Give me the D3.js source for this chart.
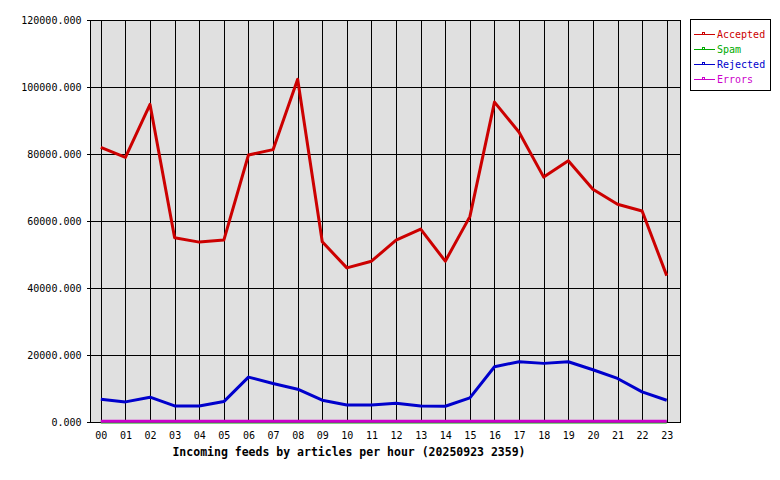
<!DOCTYPE html>
<html>
<head>
<meta charset="utf-8">
<script src="https://cdn.jsdelivr.net/npm/d3@7"></script>
<style>
    body { margin: 0; background: #fff; }
    svg text { font-family: "DejaVu Sans Mono", monospace; }
</style>
</head>
<body>
<div id="chart"></div>
<script>
const hours = ["00","01","02","03","04","05","06","07","08","09","10","11",
               "12","13","14","15","16","17","18","19","20","21","22","23"];
const accepted = [82000, 79000, 94800, 55000, 53700, 54300, 79700, 81300, 102300, 53800, 46000, 48000,
                  54300, 57600, 48000, 61300, 95500, 86500, 73100, 78000, 69500, 65000, 63000, 43700];
const spam = [0,0,0,0,0,0,0,0,0,0,0,0,0,0,0,0,0,0,0,0,0,0,0,0];
const rejected = [6800, 6000, 7400, 4800, 4800, 6100, 13400, 11500, 9800, 6500, 5100, 5100,
                  5600, 4800, 4700, 7200, 16500, 18000, 17500, 18000, 15600, 13000, 9000, 6500];
const errors = [200,200,200,200,200,200,200,200,200,200,200,200,200,200,200,200,200,200,200,200,200,200,200,200];
const yTicks = [0, 20000, 40000, 60000, 80000, 100000, 120000];
const seriesNames = ["Accepted", "Spam", "Rejected", "Errors"];
const seriesColors = ["#cc0000", "#00aa00", "#0000cc", "#cc00cc"];
const title = "Incoming feeds by articles per hour (20250923 2359)";

const width = 780, height = 480;
const margin = { top: 20, bottom: 58, left: 90, right: 100 };

const svg = d3.select("#chart").append("svg")
    .attr("width", width)
    .attr("height", height);

const x = d3.scaleLinear()
    .domain([-0.44, 23.54])
    .range([margin.left, width - margin.right]);

const y = d3.scaleLinear()
    .domain([0, 120000])
    .range([height - margin.bottom, margin.top]);

// plot background
svg.append("rect")
    .attr("x", margin.left)
    .attr("y", margin.top)
    .attr("width", width - margin.left - margin.right)
    .attr("height", height - margin.top - margin.bottom)
    .attr("fill", "#e0e0e0");

// grid
const grid = svg.append("g")
    .attr("stroke", "#000")
    .attr("stroke-width", 1)
    .attr("shape-rendering", "crispEdges");

grid.selectAll(".vgrid")
    .data(hours)
    .join("line")
    .attr("class", "vgrid")
    .attr("x1", (d, i) => Math.round(x(i)) + 0.5)
    .attr("x2", (d, i) => Math.round(x(i)) + 0.5)
    .attr("y1", margin.top)
    .attr("y2", height - margin.bottom);

grid.selectAll(".hgrid")
    .data(yTicks)
    .join("line")
    .attr("class", "hgrid")
    .attr("x1", margin.left)
    .attr("x2", width - margin.right)
    .attr("y1", d => Math.round(y(d)) + 0.5)
    .attr("y2", d => Math.round(y(d)) + 0.5);

// border
svg.append("rect")
    .attr("x", margin.left + 0.5)
    .attr("y", margin.top + 0.5)
    .attr("width", width - margin.left - margin.right)
    .attr("height", height - margin.top - margin.bottom)
    .attr("fill", "none")
    .attr("stroke", "#000")
    .attr("shape-rendering", "crispEdges");

// y axis
const yAxis = svg.append("g")
    .attr("transform", "translate(" + (margin.left + 0.5) + ",0)")
    .call(d3.axisLeft(y).tickValues(yTicks).tickFormat(d3.format(".3f")).tickSize(4).tickPadding(5));
yAxis.select(".domain").remove();
yAxis.selectAll("line").attr("shape-rendering", "crispEdges");
yAxis.selectAll("text")
    .attr("font-family", "DejaVu Sans Mono, monospace")
    .attr("font-size", 10)
    .attr("fill", "#000");

// x axis
const xAxis = svg.append("g")
    .attr("transform", "translate(0," + (height - margin.bottom) + ")")
    .call(d3.axisBottom(x).tickValues(d3.range(hours.length)).tickFormat(i => hours[i]).tickSize(0).tickPadding(10));
xAxis.select(".domain").remove();
xAxis.selectAll("text")
    .attr("font-family", "DejaVu Sans Mono, monospace")
    .attr("font-size", 10)
    .attr("fill", "#000");

// title
svg.append("text")
    .attr("x", 349)
    .attr("y", 456)
    .attr("text-anchor", "middle")
    .attr("font-size", 11.5)
    .attr("font-weight", "bold")
    .attr("fill", "#000")
    .text(title);

// lines
const allSeries = [accepted, spam, rejected, errors];
const line = d3.line()
    .x((d, i) => x(i))
    .y(d => y(d));

svg.selectAll(".series")
    .data(allSeries)
    .join("path")
    .attr("class", "series")
    .attr("d", d => line(d))
    .attr("fill", "none")
    .attr("stroke", (d, i) => seriesColors[i])
    .attr("stroke-width", 3)
    .attr("stroke-linejoin", "round");

// legend
const legend = svg.append("g");
legend.append("rect")
    .attr("x", 690.5)
    .attr("y", 19.5)
    .attr("width", 80)
    .attr("height", 71)
    .attr("fill", "#fff")
    .attr("stroke", "#000")
    .attr("shape-rendering", "crispEdges");

const item = legend.selectAll(".item")
    .data(seriesNames)
    .join("g")
    .attr("class", "item")
    .attr("transform", (d, i) => "translate(0," + (34 + i * 15) + ")");

item.append("line")
    .attr("x1", 694)
    .attr("x2", 715)
    .attr("y1", 0.5)
    .attr("y2", 0.5)
    .attr("stroke", (d, i) => seriesColors[i])
    .attr("shape-rendering", "crispEdges");

item.append("rect")
    .attr("x", 702.5)
    .attr("y", -1.5)
    .attr("width", 2)
    .attr("height", 2)
    .attr("fill", "none")
    .attr("stroke", (d, i) => seriesColors[i])
    .attr("shape-rendering", "crispEdges");

item.append("text")
    .attr("x", 717)
    .attr("y", 4)
    .attr("font-size", 10)
    .attr("fill", (d, i) => seriesColors[i])
    .text(d => d);
</script>
</body>
</html>
